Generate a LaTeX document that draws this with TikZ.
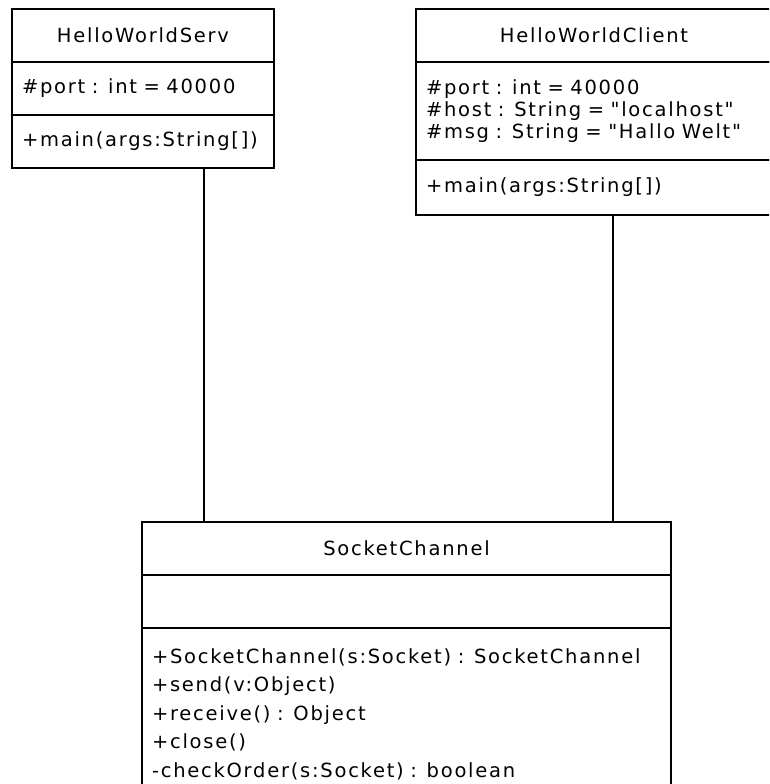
\documentclass[tikz,border=0pt]{standalone}
\usepackage{fontspec}
\newfontfamily\classfont{DejaVu Sans}[LetterSpace=9]
\usetikzlibrary{positioning}

\begin{document}
\begin{tikzpicture}[x=1pt, y=-1pt, line width=1.6pt,
     compartment/.style={draw, fill=white, inner xsep=10pt, inner ysep=0pt, outer sep=0pt,
       align=left, font=\classfont\fontsize{19.5}{22}\selectfont},
     classname/.style={compartment, align=center, minimum height=53pt},
     servbox/.style={text width=242pt},
     clientbox/.style={text width=336pt},
     socketbox/.style={text width=509pt}]

   \path[use as bounding box, clip] (0,0) rectangle (769,784);

   \node[classname, servbox, anchor=north west] (servname) at (12,9) {HelloWorldServ};
   \node[compartment, servbox, minimum height=53pt, below=0pt of servname] (servattr) {\#port : int = 40000};
   \node[compartment, servbox, minimum height=53pt, below=0pt of servattr] (servops) {+main(args:String[])};

   \node[classname, clientbox, anchor=north west] (clientname) at (416,9) {HelloWorldClient};
   \node[compartment, clientbox, minimum height=98pt, below=0pt of clientname] (clientattr)
     {\#port : int = 40000\\ \#host : String = "localhost"\\ \#msg : String = "Hallo Welt"};
   \node[compartment, clientbox, minimum height=55pt, below=0pt of clientattr] (clientops) {+main(args:String[])};

   \node[classname, socketbox, anchor=north west] (sockname) at (142,522) {SocketChannel};
   \node[compartment, socketbox, minimum height=53pt, below=0pt of sockname] (sockattr) {};
   \node[compartment, socketbox, minimum height=172pt, below=0pt of sockattr,
     font=\classfont\fontsize{19.5}{28.5}\selectfont] (sockops)
     {+SocketChannel(s:Socket) : SocketChannel\\ +send(v:Object)\\ +receive() : Object\\ +close()\\ -checkOrder(s:Socket) : boolean};

   \coordinate (servlink) at (204,0);
   \coordinate (clientlink) at (613,0);
   \draw (servops.south -| servlink) -- (sockname.north -| servlink);
   \draw (clientops.south -| clientlink) -- (sockname.north -| clientlink);
\end{tikzpicture}
\end{document}
